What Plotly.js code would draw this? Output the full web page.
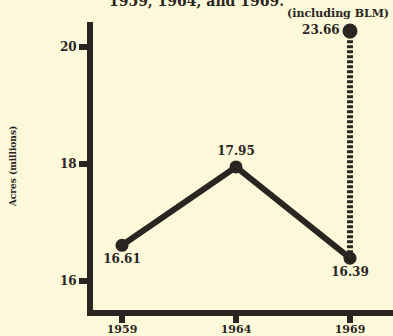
<!DOCTYPE html>
<html>
<head>
<meta charset="utf-8">
<script src="https://cdn.plot.ly/plotly-3.0.1.min.js"></script>
<style>html,body{margin:0;padding:0;background:#fcf8da;}#chart{width:393px;height:336px;}</style>
</head>
<body>
<div id="chart"></div>
<script>
// Data
var years = [1959, 1964, 1969];
var acres = [16.61, 17.95, 16.39];
var blmYears = [1969, 1969];
var blmAcres = [16.39, 23.66];
var yTickVals = [16, 18, 20];
var xTickVals = [1959, 1964, 1969];
var titleText = '1959, 1964, and 1969.';
var yTitle = 'Acres (millions)';
var blmNote = '(including BLM)';

var ink = '#2a2521';
var serif = 'DejaVu Serif, Liberation Serif, serif';

var traces = [
  {
    x: blmYears, y: blmAcres, type: 'scatter', mode: 'lines', yaxis: 'y2',
    line: {color: ink, width: 6, dash: '3px,2px'},
    showlegend: false, hoverinfo: 'skip'
  },
  {
    x: [blmYears[1]], y: [blmAcres[1]], type: 'scatter', mode: 'markers+text', yaxis: 'y2',
    marker: {color: ink, size: 15},
    text: [blmAcres[1].toFixed(2)],
    textposition: 'middle left',
    textfont: {family: serif, size: 12, color: ink, weight: 'bold'},
    cliponaxis: false, showlegend: false, hoverinfo: 'skip'
  },
  {
    x: years, y: acres, type: 'scatter', mode: 'lines+markers+text',
    line: {color: ink, width: 6},
    marker: {color: ink, size: 13},
    text: acres.map(function(v){return v.toFixed(2);}),
    textposition: ['bottom center', 'top center', 'bottom center'],
    textfont: {family: serif, size: 12, color: ink, weight: 'bold'},
    cliponaxis: false, showlegend: false, hoverinfo: 'skip'
  }
];

var layout = {
  width: 393, height: 336,
  margin: {l: 93, r: 0, t: 22, b: 26},
  paper_bgcolor: '#fcf8da', plot_bgcolor: '#fcf8da',
  font: {family: serif, color: ink, size: 12},
  title: {text: titleText, x: 0.5, xref: 'container', y: 0.996, yref: 'container', yanchor: 'middle',
          font: {family: serif, size: 14, color: ink, weight: 'bold'}},
  xaxis: {
    range: [1957.728, 1970.886], showgrid: false, zeroline: false,
    showline: true, linecolor: ink, linewidth: 6,
    ticks: 'outside', ticklen: 7, tickwidth: 6, tickcolor: ink,
    tickvals: xTickVals, ticktext: xTickVals.map(String),
    ticklabelstandoff: -3,
    tickfont: {family: serif, size: 11, color: ink, weight: 'bold'}
  },
  yaxis: {
    range: [15.504, 20.427], showgrid: false, zeroline: false,
    showline: true, linecolor: ink, linewidth: 6,
    ticks: 'outside', ticklen: 8, tickwidth: 6, tickcolor: ink,
    tickvals: yTickVals, ticktext: yTickVals.map(String),
    tickfont: {family: serif, size: 12, color: ink, weight: 'bold'},
    title: {text: yTitle, standoff: 44, font: {family: serif, size: 9, color: ink, weight: 'bold'}}
  },
  yaxis2: {
    overlaying: 'y', range: [14.732, 23.948], visible: false, showgrid: false, zeroline: false
  },
  annotations: [
    {x: blmYears[1], y: blmAcres[1], xref: 'x', yref: 'y2', text: blmNote, showarrow: false,
     yshift: 18, xshift: -12, font: {family: serif, size: 11, color: ink, weight: 'bold'}}
  ]
};

Plotly.newPlot('chart', traces, layout, {staticPlot: true, displayModeBar: false});
</script>
</body>
</html>
